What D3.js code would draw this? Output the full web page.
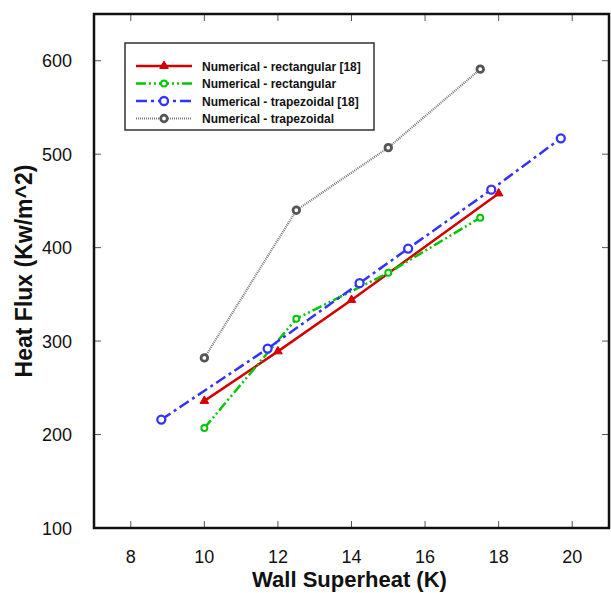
<!DOCTYPE html>
<html><head><meta charset="utf-8">
<script src="https://cdn.jsdelivr.net/npm/d3@7"></script>
<style>html,body{margin:0;padding:0;background:#fff;}svg{display:block;}</style>
</head><body>
<script>
// Data
const rectRefX = [10, 12, 14, 18];
const rectRefY = [236, 289, 344, 458];
const rectX = [10, 12.5, 15, 17.5];
const rectY = [207, 324, 373, 432];
const trapRefX = [8.83, 11.72, 14.22, 15.54, 17.8, 19.69];
const trapRefY = [216, 292, 362, 399, 462, 517];
const trapX = [10, 12.5, 15, 17.5];
const trapY = [282, 440, 507, 591];
const seriesNames = ["Numerical - rectangular [18]", "Numerical - rectangular", "Numerical - trapezoidal [18]", "Numerical - trapezoidal"];
const xTicks = [8, 10, 12, 14, 16, 18, 20];
const yTicks = [100, 200, 300, 400, 500, 600];
const xTitle = "Wall Superheat (K)";
const yTitle = "Heat Flux (Kw/m^2)";

const W = 611, H = 593;
const L = 94, R = 609, T = 14, B = 528;
const svg = d3.select("body").append("svg").attr("width", W).attr("height", H);
const x = d3.scaleLinear().domain([7, 21]).range([L, R]);
const y = d3.scaleLinear().domain([100, 650]).range([B, T]);

const series = [
  {name: seriesNames[0], xs: rectRefX, ys: rectRefY, color: "#d40000", dash: null, width: 2.5, marker: "tri"},
  {name: seriesNames[1], xs: rectX, ys: rectY, color: "#00c800", dash: "10,3,2,3,2,3", width: 2.5, marker: "circ", r: 3, mstroke: 2},
  {name: seriesNames[2], xs: trapRefX, ys: trapRefY, color: "#3333ff", dash: "11,4,3,4", width: 2.5, marker: "circ", r: 4, mstroke: 2.3},
  {name: seriesNames[3], xs: trapX, ys: trapY, color: "#7a7a7a", dash: "1,1", width: 2.2, marker: "circ", r: 3.3, mstroke: 2.8, mcolor: "#555"}
];

// ticks (inward)
const tk = svg.append("g").attr("stroke", "#555").attr("stroke-width", 1);
xTicks.forEach(v => {
  tk.append("line").attr("x1", x(v)).attr("x2", x(v)).attr("y1", B).attr("y2", B - 7);
  tk.append("line").attr("x1", x(v)).attr("x2", x(v)).attr("y1", T).attr("y2", T + 7);
});
yTicks.forEach(v => {
  tk.append("line").attr("x1", L).attr("x2", L + 7).attr("y1", y(v)).attr("y2", y(v));
  tk.append("line").attr("x1", R).attr("x2", R - 7).attr("y1", y(v)).attr("y2", y(v));
});

// tick labels
svg.append("g").selectAll("text").data(xTicks).join("text")
  .attr("x", d => x(d)).attr("y", 563).attr("text-anchor", "middle")
  .attr("font-family", "Liberation Sans, Arial, sans-serif").attr("font-size", 18).attr("fill", "#111")
  .text(d => d);
svg.append("g").selectAll("text").data(yTicks).join("text")
  .attr("x", 72).attr("y", d => y(d) + 6.5).attr("text-anchor", "end")
  .attr("font-family", "Liberation Sans, Arial, sans-serif").attr("font-size", 18).attr("fill", "#111")
  .text(d => d);

// titles
svg.append("text").attr("x", (L + R) / 2 - 2).attr("y", 587).attr("text-anchor", "middle")
  .attr("font-family", "Liberation Sans, Arial, sans-serif").attr("font-weight", "bold").attr("font-size", 22)
  .attr("fill", "#111").text(xTitle);
svg.append("text").attr("transform", `translate(32,${(T + B) / 2}) rotate(-90)`).attr("text-anchor", "middle")
  .attr("font-family", "Liberation Sans, Arial, sans-serif").attr("font-weight", "bold").attr("font-size", 23)
  .attr("fill", "#111").text(yTitle);

// series
const line = d3.line();
const tri = d3.symbol().type(d3.symbolTriangle).size(32);
function drawMarker(g, s, cx, cy) {
  if (s.marker === "tri") {
    g.append("path").attr("d", tri()).attr("transform", `translate(${cx},${cy})`)
      .attr("fill", s.color).attr("stroke", s.color).attr("stroke-width", 1);
  } else {
    g.append("circle").attr("cx", cx).attr("cy", cy).attr("r", s.r)
      .attr("fill", "#fff").attr("stroke", s.mcolor || s.color).attr("stroke-width", s.mstroke);
  }
}
series.forEach(s => {
  const pts = s.xs.map((v, i) => [x(v), y(s.ys[i])]);
  const g = svg.append("g");
  g.append("path").attr("d", line(pts)).attr("fill", "none").attr("stroke", s.color)
    .attr("stroke-width", s.width).attr("stroke-dasharray", s.dash);
  pts.forEach(p => drawMarker(g, s, p[0], p[1]));
});

// frame
svg.append("rect").attr("x", L).attr("y", T).attr("width", R - L).attr("height", B - T)
  .attr("fill", "none").attr("stroke", "#111").attr("stroke-width", 2.5);

// legend
const lg = svg.append("g");
lg.append("rect").attr("x", 125).attr("y", 43).attr("width", 249).attr("height", 87)
  .attr("fill", "#fff").attr("stroke", "#333").attr("stroke-width", 1.5);
const rowsY = [66, 83.5, 101, 118.5];
series.forEach((s, i) => {
  const yy = rowsY[i];
  lg.append("line").attr("x1", 136).attr("x2", 192).attr("y1", yy).attr("y2", yy)
    .attr("stroke", s.color).attr("stroke-width", s.width).attr("stroke-dasharray", s.dash);
  drawMarker(lg, s, 164, yy);
  lg.append("text").attr("x", 202).attr("y", yy + 4.5)
    .attr("font-family", "Liberation Sans, Arial, sans-serif").attr("font-weight", "bold").attr("font-size", 12)
    .attr("fill", "#111").text(s.name);
});
</script>
</body></html>
